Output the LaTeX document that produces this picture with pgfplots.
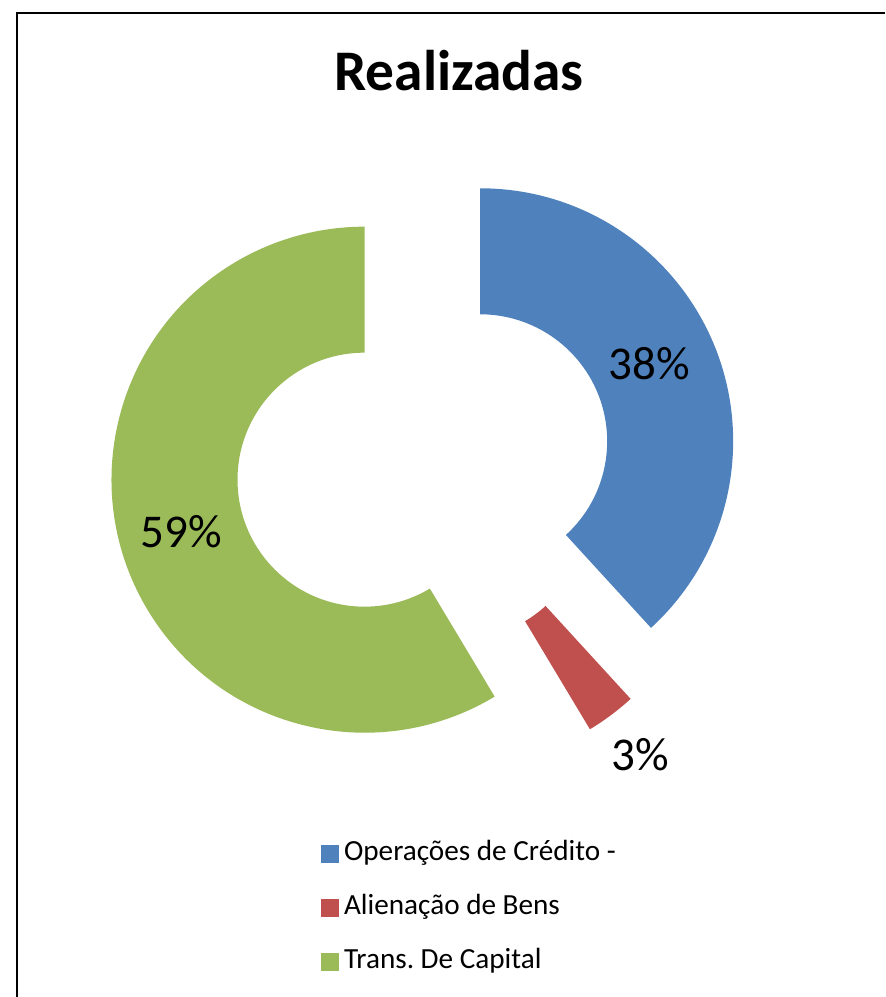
\documentclass[border=0pt]{standalone}
\usepackage{pgfplots}
\pgfplotsset{compat=1.18}
\usepackage{fontspec}
\setmainfont{Carlito}
\frenchspacing

\definecolor{sliceA}{HTML}{4F81BD}
\definecolor{sliceB}{HTML}{C0504D}
\definecolor{sliceC}{HTML}{9BBB59}

% shares (percent), clockwise from 12 o'clock
\def\vA{38.2}
\def\vB{3.2}
\def\vC{58.6}

% angles
\pgfmathsetmacro\sA{90}
\pgfmathsetmacro\eA{\sA-3.6*\vA}
\pgfmathsetmacro\eB{\eA-3.6*\vB}
\pgfmathsetmacro\eC{\eB-3.6*\vC}
\pgfmathsetmacro\iA{\eA+180}
\pgfmathsetmacro\iB{\eB+180}
\pgfmathsetmacro\iC{\eC+180}
% each slice pulled out by 61 units from the centre (423.3,533.6)
\pgfmathsetmacro\xA{423.3+61*cos((\sA+\eA)/2)}
\pgfmathsetmacro\yA{533.6+61*sin((\sA+\eA)/2)}
\pgfmathsetmacro\xB{423.3+61*cos((\eA+\eB)/2)}
\pgfmathsetmacro\yB{533.6+61*sin((\eA+\eB)/2)}
\pgfmathsetmacro\xC{423.3+61*cos((\eB+\eC)/2)}
\pgfmathsetmacro\yC{533.6+61*sin((\eB+\eC)/2)}

\def\ro{126.5pt}
\def\ri{63.5pt}
\def\rw{63pt}

\begin{document}
\begin{tikzpicture}
\useasboundingbox (0,0) rectangle (442.5pt,498.5pt);
\begin{axis}[
    at={(0,0)}, anchor=south west,
    x=0.5pt, y=0.5pt,
    xmin=0, xmax=885, ymin=0, ymax=997,
    hide axis, clip=false,
    legend image code/.code={\fill[#1] (0pt,-4.25pt) rectangle (8.5pt,4.25pt);},
    legend style={at={(axis cs:321,89)}, anchor=west, draw=none, fill=none,
        inner sep=0pt, row sep=14pt,
        font=\fontsize{14.6}{16}\selectfont,
        nodes={text height=10pt, text depth=3pt, inner sep=0pt},
        /tikz/every even column/.append style={column sep=0pt}},
    legend cell align=left,
]
\addlegendimage{sliceA}
\addlegendentry{\,Operações de Crédito -}
\addlegendimage{sliceB}
\addlegendentry{\,Alienação de Bens}
\addlegendimage{sliceC}
\addlegendentry{\,Trans. De Capital}

\fill[sliceA] (axis cs:\xA,\yA) ++(\sA:\ro) arc[start angle=\sA, end angle=\eA, radius=\ro]
    -- ++(\iA:\rw) arc[start angle=\eA, end angle=\sA, radius=\ri] -- cycle;
\fill[sliceB] (axis cs:\xB,\yB) ++(\eA:\ro) arc[start angle=\eA, end angle=\eB, radius=\ro]
    -- ++(\iB:\rw) arc[start angle=\eB, end angle=\eA, radius=\ri] -- cycle;
\fill[sliceC] (axis cs:\xC,\yC) ++(\eB:\ro) arc[start angle=\eB, end angle=\eC, radius=\ro]
    -- ++(\iC:\rw) arc[start angle=\eC, end angle=\eB, radius=\ri] -- cycle;

\node[font=\fontsize{23.5}{23.5}\selectfont] at (axis cs:649,633) {38\%};
\node[font=\fontsize{23.5}{23.5}\selectfont] at (axis cs:640,242) {3\%};
\node[font=\fontsize{23.5}{23.5}\selectfont] at (axis cs:181,465) {59\%};
\node[font=\bfseries\fontsize{28.7}{28.7}\selectfont] at (axis cs:459,926) {Realizadas};

\draw[line width=1pt] (axis cs:17,0) -- (axis cs:17,984) -- (axis cs:885,984);
\end{axis}
\end{tikzpicture}
\end{document}
